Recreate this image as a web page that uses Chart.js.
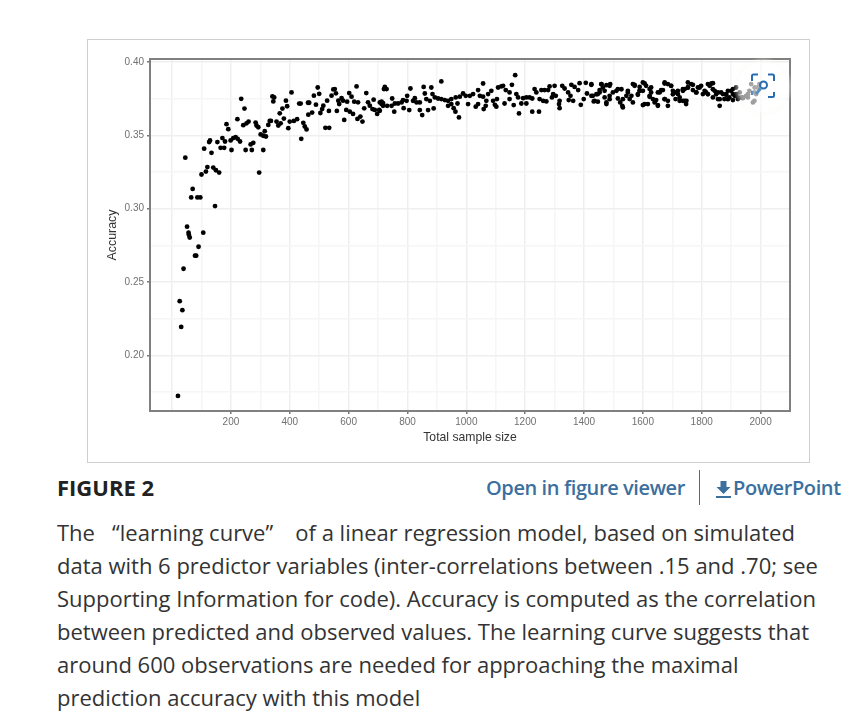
<!DOCTYPE html>
<html><head><meta charset="utf-8">
<script src="https://cdn.jsdelivr.net/npm/chart.js@4"></script>
<style>
html,body{margin:0;padding:0;background:#fff;width:855px;height:717px;overflow:hidden}
body{position:relative;font-family:"Open Sans",sans-serif;color:#333}
#box{position:absolute;left:87px;top:39px;width:721px;height:422px;border:1px solid #cfcfcf}
#wrap{position:absolute;left:88px;top:40px;width:721px;height:422px;filter:blur(.45px)}
#lens{position:absolute;left:733px;top:57px}
.t{position:absolute;white-space:pre;line-height:33px}
.p{left:57px;font-size:22px;color:#333}
.a{font-size:20px;color:#3b6f9e;font-weight:600;letter-spacing:-.4px}
</style></head><body>
<div id="box"></div>
<div id="wrap"><canvas id="c" width="721" height="422"></canvas></div>
<svg id="lens" width="60" height="60" viewBox="0 0 60 60">
<defs><radialGradient id="g"><stop offset="0" stop-color="#fff" stop-opacity=".7"/><stop offset=".8" stop-color="#fff" stop-opacity=".6"/><stop offset="1" stop-color="#f4f4ee" stop-opacity="0"/></radialGradient></defs>
<circle cx="30" cy="30" r="30" fill="url(#g)"/>
<g fill="none" stroke="#2b6cb0" stroke-width="2">
<path d="M19 24v-5a1.500 1.500 0 0 1 1.500-1.500H25M35 17.500h4.500A1.500 1.500 0 0 1 41 19v5M41 35v3.500a1.500 1.500 0 0 1-1.500 1.500H35"/>
<path d="M19 34v4" stroke="#5d8fbd"/>
<circle cx="30.500" cy="28" r="3.500"/><path d="M28 31l-5 6" stroke="#5d8fbd" stroke-width="3"/></g></svg>
<div class="t" style="left:57px;top:471px;font-size:22px;font-weight:700;color:#222">FIGURE 2</div>
<div class="t a" style="left:486px;top:471px">Open in figure viewer</div>
<div style="position:absolute;left:699px;top:470px;width:1px;height:35px;background:#666"></div>
<svg style="position:absolute;left:715px;top:480px" width="18" height="20" viewBox="0 0 18 20"><path d="M5.500 1h6v6h4l-7 7-7-7h4z" fill="#3b6f9e"/><rect x="1" y="16" width="15" height="2" fill="#3b6f9e"/></svg>
<div class="t a" style="left:733px;top:471px">PowerPoint</div>
<div class="t p" style="top:516px">The   “learning curve”   <span style="margin-left:5px">of a linear regression model, based on simulated</span></div>
<div class="t p" style="top:549px">data with 6 predictor variables (inter-correlations between .15 and .70; see</div>
<div class="t p" style="top:582px">Supporting Information for code). Accuracy is computed as the correlation</div>
<div class="t p" style="top:615px">between predicted and observed values. The learning curve suggests that</div>
<div class="t p" style="top:648px">around 600 observations are needed for approaching the maximal</div>
<div class="t p" style="top:681px">prediction accuracy with this model</div>
<script>
const xTickValues=[0,100,200,300,400,500,600,700,800,900,1000,1100,1200,1300,1400,1500,1600,1700,1800,1900,2000];
const xLabelled=[200,400,600,800,1000,1200,1400,1600,1800,2000];
const yTickValues=[0.175,0.2,0.225,0.25,0.275,0.3,0.325,0.35,0.375,0.4];
const yLabelled=[0.2,0.25,0.3,0.35,0.4];

const sizesA=[20,26,35,31,39,78,82,90,45,70,65,86,96,146,51,56,57,60,106,100,115,120,140,149,160,109,126,129,134,154,171,180,165,177,202,185,191,199,208,216,223,231,222,235,246,242,253,260,250,271,267,276,284,287,293,296,301,310,319,315,310,327,332,336,341,347,344];
const accA=[.1725,.237,.2309,.2195,.2591,.268,.268,.2741,.3348,.3135,.3077,.3077,.3077,.3018,.2878,.2837,.2822,.2804,.2837,.3233,.3253,.3284,.328,.3262,.3246,.3409,.3454,.3465,.3381,.3454,.3481,.3458,.3415,.3415,.34,.3576,.3542,.3465,.3481,.3488,.3476,.3458,.361,.3749,.3682,.3569,.3582,.3594,.34,.34,.3438,.3449,.3587,.3567,.3555,.3246,.3506,.3497,.3492,.3528,.34,.3571,.3598,.3598,.3765,.3758,.3731];

const sizesB=[355,361,369,366,375,380,387,391,395,406,400,414,425,432,437,439,446,451,457,462,466,463,476,482,489,495,500,504,510,514,521,534,527,533,542,548,553,557,560,565,568,576,581,585,592,595,602,610,604,615,619,632,627,630,640,647,653,660,666,672,681,689,685,697,704,712,717];
const accB=[.3594,.3567,.3582,.365,.3682,.3614,.3736,.3698,.3549,.3792,.3594,.3598,.361,.3716,.3716,.3476,.3585,.356,.354,.3722,.3722,.3641,.3655,.377,.3709,.3826,.3783,.3652,.3679,.3702,.3551,.3551,.3736,.3666,.377,.3813,.3815,.3786,.3666,.3736,.3713,.3754,.3736,.3605,.3673,.3729,.3788,.3763,.3661,.3646,.3729,.3725,.3833,.3612,.3628,.3594,.3684,.3788,.3725,.3702,.3679,.3673,.3743,.3646,.3673,.3729,.372];

const sizesC=[723,729,720,706,717,748,712,731,746,757,768,780,785,755,706,787,806,810,799,797,819,825,831,842,855,881,859,864,885,876,893,904,915,927,938,949,842,850,870,889,915,964,978,989,998,1012,1023,1040,1046,1057,938,949,957,963,975,970,1006,1040,1032,1057];
const accC=[.383,.3815,.3815,.3724,.3701,.3751,.3713,.3701,.3701,.3717,.3717,.3724,.374,.3661,.3667,.3685,.3672,.3819,.3769,.3735,.3735,.3753,.3724,.3724,.383,.3826,.3785,.3747,.3781,.3735,.3758,.3751,.3747,.374,.3735,.3747,.3672,.3638,.3672,.3683,.3867,.3758,.3763,.3785,.3769,.3769,.3781,.3808,.3769,.3763,.3701,.3713,.3685,.3661,.3622,.3717,.3713,.3713,.3695,.3853];

const sizesD=[1085,1074,1068,1066,1059,1091,1097,1104,1102,1108,1119,1125,1134,1147,1155,1166,1130,1147,1161,1170,1176,1193,1204,1215,1224,1179,1187,1204,1224,1247,1232,1238,1255,1266,1278,1283,1300,1249,1261,1272,1295,1304,1291,1317,1315,1317,1326,1334,1346,1354,1363,1348,1357,1368,1380,1385,1406,1425,1410,1425,1436,1447,1447,1399,1389];
const accD=[.3803,.3781,.3735,.3701,.3679,.3735,.3708,.3747,.3695,.3826,.3833,.3837,.3808,.3792,.3844,.391,.3717,.3747,.3706,.3781,.3758,.3753,.3758,.3758,.3751,.3649,.3717,.3717,.3661,.3661,.3815,.3792,.3808,.3808,.3808,.3833,.3837,.3747,.3735,.3731,.3781,.3769,.3758,.3735,.3713,.3685,.3837,.3819,.3792,.3769,.3735,.374,.3844,.383,.3808,.3855,.3858,.3844,.3785,.3769,.3735,.3729,.3781,.3747,.3708];

const sizesE=[1459,1476,1489,1464,1453,1470,1487,1476,1498,1515,1515,1523,1530,1532,1549,1566,1572,1561,1555,1566,1589,1600,1611,1623,1583,1589,1600,1606,1617,1634,1640,1651,1628,1623,1657,1668,1674,1685,1696,1674,1685,1685];
const accE=[.3849,.3842,.3849,.3826,.3808,.3758,.3769,.3724,.3792,.3815,.3751,.3724,.3701,.369,.3792,.3849,.3837,.3769,.3747,.3724,.383,.386,.3837,.3815,.3781,.3803,.3803,.3713,.3713,.3747,.3724,.3701,.3792,.3769,.3792,.3808,.386,.3849,.3837,.3747,.3701,.3735];

const sizesF=[1702,1711,1719,1711,1725,1736,1747,1753,1764,1742,1770,1787,1798,1781,1804,1815,1827,1838,1821,1844,1855,1838,1855,1861,1872,1883,1889,1906,1917,1906,1917,1923,1877,1894,1906,1923,1934,1951,1968,1962,1979,1996,1985,1979,1991,1957,1940];
const accF=[.3803,.3792,.3781,.3747,.3735,.3735,.3713,.3826,.3849,.3815,.3808,.3826,.3837,.3792,.3781,.3792,.3837,.3855,.3849,.3803,.3792,.3758,.3747,.3701,.3781,.3781,.3803,.3815,.3826,.3781,.3781,.3758,.3747,.3758,.374,.3747,.3758,.3769,.3849,.3803,.3792,.3849,.3781,.3735,.3826,.3758,.3753];

const sizesG=[1425,1459,1487,1442,1430,1470,1453,1510,1527,1544,1549,1532,1487,1476,1433,1572,1589,1583,1606,1628,1623,1600,1651,1662,1674,1645,1651,1674,1696,1702,1719,1725,1742,1753,1736];
const accG=[.3848,.3848,.3837,.378,.3769,.3803,.3792,.3803,.3814,.3769,.3803,.3746,.3746,.3713,.3731,.3844,.3803,.3776,.3853,.3826,.3762,.3706,.3792,.3808,.3853,.374,.3706,.3746,.3837,.378,.3803,.3758,.3735,.3826,.3803];

const sizesH=[1736,1753,1770,1782,1793,1810,1833,1838,1821,1849,1866,1883,1900,1912,1929,1940,1889,1748,1861,1957,1974,1980];
const accH=[.3814,.386,.3844,.3792,.3826,.3803,.3853,.3814,.378,.378,.3792,.3776,.3803,.3769,.3792,.3758,.3746,.3735,.3746,.378,.3724,.3826];

const sampleSizes=[...sizesA,...sizesB,...sizesC,...sizesD,...sizesE,...sizesF,...sizesG,...sizesH];
const accuracy=[...accA,...accB,...accC,...accD,...accE,...accF,...accG,...accH];
const points=sampleSizes.map((x,i)=>({x,y:accuracy[i]}));

const panelBorder={id:'panelBorder',afterDatasetsDraw(ch){const {ctx,chartArea:a}=ch;ctx.save();ctx.strokeStyle='#808080';ctx.lineWidth=2;ctx.strokeRect(a.left,a.top,a.right-a.left,a.bottom-a.top);ctx.restore();}};
const near=(list,v)=>list.some(u=>Math.abs(u-v)<1e-6);

new Chart(document.getElementById('c'),{
 type:'scatter',
 data:{datasets:[{data:points,backgroundColor:'#000',borderColor:'#000',pointRadius:2.4,pointBorderWidth:0,pointHoverRadius:2.4}]},
 plugins:[panelBorder],
 options:{responsive:false,animation:false,devicePixelRatio:1,
  layout:{padding:{left:0,top:19,right:19,bottom:0}},
  plugins:{legend:{display:false},tooltip:{enabled:false}},
  scales:{
   x:{type:'linear',min:-75,max:2100,
    afterBuildTicks(ax){ax.ticks=xTickValues.map(value=>({value}));},
    afterFit(ax){ax.height=51;},
    grid:{color:c=>near(xLabelled,c.tick.value)||c.tick.value===0?'#efefef':'#f6f6f6',lineWidth:1.5,tickLength:3,tickColor:c=>near(xLabelled,c.tick.value)?'#777':'rgba(0,0,0,0)'},
    border:{display:false},
    ticks:{autoSkip:false,maxRotation:0,padding:2,color:'#707070',font:{family:'Liberation Sans',size:10},callback:v=>near(xLabelled,v)?String(v):''},
    title:{display:true,text:'Total sample size',color:'#333',font:{family:'Liberation Sans',size:12.2},padding:{top:0,bottom:17}}},
   y:{type:'linear',min:0.1622,max:0.402,
    afterBuildTicks(ax){ax.ticks=yTickValues.map(value=>({value}));},
    afterFit(ax){ax.width=62;},
    grid:{color:c=>near(yLabelled,c.tick.value)?'#efefef':'#f6f6f6',lineWidth:1.5,tickLength:3,tickColor:c=>near(yLabelled,c.tick.value)?'#777':'rgba(0,0,0,0)'},
    border:{display:false},
    ticks:{autoSkip:false,padding:3,color:'#707070',font:{family:'Liberation Sans',size:10},callback:v=>near(yLabelled,v)?v.toFixed(2):''},
    title:{display:true,text:'Accuracy',color:'#333',font:{family:'Liberation Sans',size:12.4},padding:{top:17,bottom:0}}}
  }}
});
</script>
</body></html>
